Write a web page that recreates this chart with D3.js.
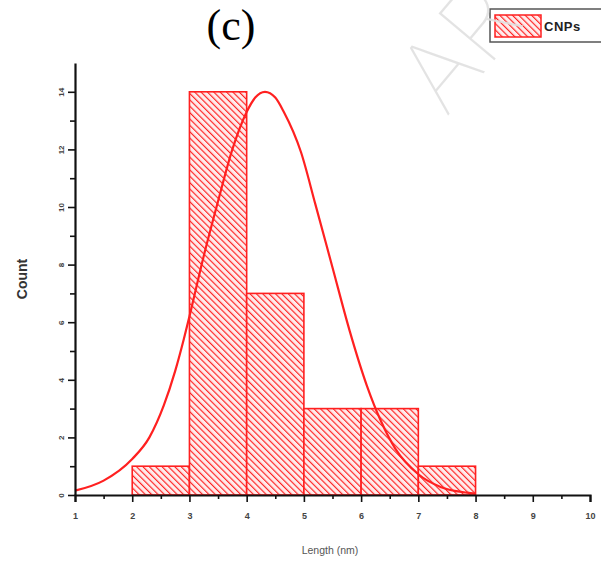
<!DOCTYPE html>
<html lang="en">
<head>
    <meta charset="UTF-8">
    <title>Length histogram</title>
    <script src="https://d3js.org/d3.v7.min.js"></script>
    <style>
        html, body {
            margin: 0;
            padding: 0;
            background: #fff;
        }
        svg {
            display: block;
        }
        .axis path, .axis line {
            stroke: #111;
        }
        .axis text {
            font-family: Arial, "Liberation Sans", sans-serif;
            font-weight: bold;
            fill: #444;
        }
    </style>
</head>
<body>
    <svg width="601" height="569"></svg>

    <script>
        // histogram bins (nm) and counts
        const binStart = [2, 3, 4, 5, 6, 7];
        const binEnd   = [3, 4, 5, 6, 7, 8];
        const counts   = [1, 14, 7, 3, 3, 1];

        // fitted curve
        const curveX = [1, 1.5, 2, 2.3, 2.55, 2.75, 2.9, 3.0, 3.25, 3.5, 3.75, 4.0, 4.15, 4.32, 4.5, 4.65, 4.95, 5.2, 5.5, 5.8, 6.1, 6.35, 6.6, 7.0, 7.4, 7.85, 8.0];
        const curveY = [0.15, 0.5, 1.25, 2.0, 3.1, 4.3, 5.4, 6.2, 8.3, 10.2, 12.0, 13.3, 13.8, 14.0, 13.8, 13.3, 11.9, 10.1, 7.9, 5.7, 3.8, 2.55, 1.6, 0.72, 0.27, 0.08, 0.05];

        // ticks
        const xMajor = [1, 2, 3, 4, 5, 6, 7, 8, 9, 10];
        const xMinor = [1.5, 2.5, 3.5, 4.5, 5.5, 6.5, 7.5, 8.5, 9.5];
        const yMajor = [0, 2, 4, 6, 8, 10, 12, 14];
        const yMinor = [1, 3, 5, 7, 9, 11, 13];

        const seriesName = "CNPs";
        const red = "#ff2020";

        const svg = d3.select("svg");

        const x = d3.scaleLinear().domain([1, 10]).range([75, 590]);
        const y = d3.scaleLinear().domain([0, 15]).range([495, 63]);

        // hatch pattern (lines going down to the right)
        const defs = svg.append("defs");
        const pat = defs.append("pattern")
            .attr("id", "hatch")
            .attr("patternUnits", "userSpaceOnUse")
            .attr("width", 4.5)
            .attr("height", 4.5)
            .attr("patternTransform", "rotate(-45)");
        pat.append("rect").attr("width", 4.5).attr("height", 4.5).attr("fill", "#ffecec");
        pat.append("line")
            .attr("x1", 0).attr("y1", 0).attr("x2", 0).attr("y2", 4.5)
            .attr("stroke", red).attr("stroke-width", 2.3);

        // bars
        svg.append("g")
            .selectAll("rect")
            .data(counts)
            .enter().append("rect")
            .attr("x", (d, i) => x(binStart[i]))
            .attr("y", d => y(d))
            .attr("width", (d, i) => x(binEnd[i]) - x(binStart[i]))
            .attr("height", d => y(0) - y(d))
            .attr("fill", "url(#hatch)")
            .attr("stroke", red)
            .attr("stroke-width", 1.6);

        // fit curve
        const line = d3.line()
            .x((d, i) => x(curveX[i]))
            .y(d => y(d))
            .curve(d3.curveMonotoneX);

        svg.append("path")
            .datum(curveY)
            .attr("d", line)
            .attr("fill", "none")
            .attr("stroke", red)
            .attr("stroke-width", 2.2);

        // x axis
        const xAxis = svg.append("g")
            .attr("class", "axis")
            .attr("transform", `translate(0,${y(0)})`)
            .call(d3.axisBottom(x).tickValues(xMajor).tickSize(7).tickPadding(11).tickFormat(d3.format("d")));
        xAxis.select(".domain").attr("stroke-width", 2.2);
        xAxis.selectAll(".tick line").attr("stroke-width", 1.6);
        xAxis.selectAll("text").attr("font-size", 9);

        const xAxisMinor = svg.append("g")
            .attr("class", "axis")
            .attr("transform", `translate(0,${y(0)})`)
            .call(d3.axisBottom(x).tickValues(xMinor).tickSize(4).tickFormat(""));
        xAxisMinor.select(".domain").remove();
        xAxisMinor.selectAll(".tick line").attr("stroke-width", 1.6);

        // y axis
        const yAxis = svg.append("g")
            .attr("class", "axis")
            .attr("transform", `translate(${x(1)},0)`)
            .call(d3.axisLeft(y).tickValues(yMajor).tickSize(7).tickSizeOuter(0));
        yAxis.select(".domain").attr("stroke-width", 2.2);
        yAxis.selectAll(".tick line").attr("stroke-width", 1.6);
        yAxis.selectAll("text")
            .attr("font-size", 8)
            .attr("text-anchor", "middle")
            .attr("x", 0)
            .attr("dy", 0)
            .attr("transform", "translate(-11,0) rotate(-90)");

        const yAxisMinor = svg.append("g")
            .attr("class", "axis")
            .attr("transform", `translate(${x(1)},0)`)
            .call(d3.axisLeft(y).tickValues(yMinor).tickSize(5).tickFormat(""));
        yAxisMinor.select(".domain").remove();
        yAxisMinor.selectAll(".tick line").attr("stroke-width", 1.6);

        // axis titles
        svg.append("text")
            .attr("transform", "translate(27,279) rotate(-90)")
            .attr("text-anchor", "middle")
            .attr("font-family", "Arial, 'Liberation Sans', sans-serif")
            .attr("font-weight", "bold")
            .attr("font-size", 14)
            .attr("fill", "#333")
            .text("Count");

        svg.append("text")
            .attr("x", 330)
            .attr("y", 554)
            .attr("text-anchor", "middle")
            .attr("font-family", "Arial, 'Liberation Sans', sans-serif")
            .attr("font-size", 10.5)
            .attr("fill", "#555")
            .text("Length (nm)");

        // panel label
        svg.append("text")
            .attr("x", 231)
            .attr("y", 40)
            .attr("text-anchor", "middle")
            .attr("font-family", "'Liberation Serif', 'Times New Roman', serif")
            .attr("font-size", 44)
            .attr("fill", "#000")
            .text("(c)");

        // legend
        const legend = svg.append("g");
        legend.append("rect")
            .attr("x", 490).attr("y", 9)
            .attr("width", 120).attr("height", 33)
            .attr("fill", "#fff")
            .attr("stroke", "#555")
            .attr("stroke-width", 1.5);
        legend.append("rect")
            .attr("x", 495).attr("y", 15)
            .attr("width", 46).attr("height", 22)
            .attr("fill", "url(#hatch)")
            .attr("stroke", red)
            .attr("stroke-width", 1.5);
        legend.append("text")
            .attr("x", 544).attr("y", 31)
            .attr("font-family", "Arial, 'Liberation Sans', sans-serif")
            .attr("font-weight", "bold")
            .attr("font-size", 13)
            .attr("letter-spacing", 0.5)
            .attr("fill", "#222")
            .text(seriesName);

        // watermark
        svg.append("text")
            .attr("transform", "translate(446,118) rotate(-50)")
            .attr("font-family", "Inter, Lato, 'Open Sans', sans-serif")
            .attr("font-weight", 100)
            .attr("font-size", 100)
            .attr("fill", "#e0e0e0")
            .attr("fill-opacity", 0.9)
            .text("ARTICLE IN PRESS");
    </script>
</body>
</html>
